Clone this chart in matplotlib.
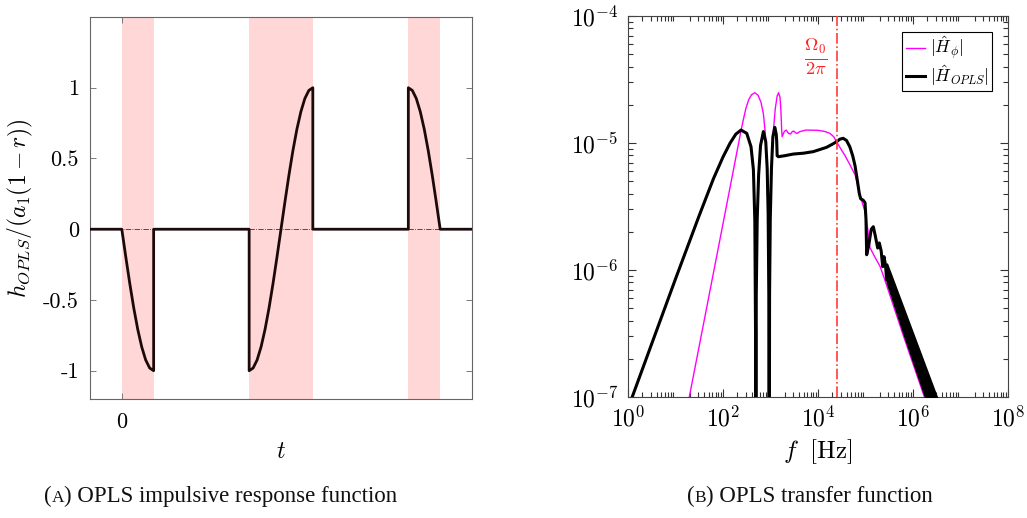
import numpy as np
import matplotlib
matplotlib.use("Agg")
import matplotlib.pyplot as plt
from matplotlib.ticker import LogLocator, NullFormatter
from matplotlib.offsetbox import TextArea, HPacker, AnchoredOffsetbox

plt.rcParams["mathtext.fontset"] = "cm"
plt.rcParams["font.family"] = "serif"
plt.rcParams["font.serif"] = ["cmr10", "DejaVu Serif"]
plt.rcParams["axes.formatter.use_mathtext"] = True

# ---- impulse response (normalised), sampled per segment ----
t_seg1 = [0, 0.125, 0.25, 0.375, 0.5, 0.625, 0.75, 0.875, 1.0]
h_seg1 = [0, -0.195, -0.383, -0.556, -0.707, -0.831, -0.924, -0.981, -1.0]
t_seg2 = [4.0, 4.125, 4.25, 4.375, 4.5, 4.625, 4.75, 4.875, 5.0,
          5.125, 5.25, 5.375, 5.5, 5.625, 5.75, 5.875, 6.0]
h_seg2 = [-1.0, -0.981, -0.924, -0.831, -0.707, -0.556, -0.383, -0.195, 0.0,
          0.195, 0.383, 0.556, 0.707, 0.831, 0.924, 0.981, 1.0]
t_seg3 = [9.0, 9.125, 9.25, 9.375, 9.5, 9.625, 9.75, 9.875, 10.0]
h_seg3 = [1.0, 0.981, 0.924, 0.831, 0.707, 0.556, 0.383, 0.195, 0.0]
t_range = [-1, 11]
windows = [(0, 1), (4, 6), (9, 10)]

# ---- transfer functions, log10 of frequency [Hz] and magnitude ----
logf_phi = [1.1, 1.29, 1.8, 2.2, 2.36, 2.42, 2.48, 2.54, 2.6, 2.67, 2.74, 2.80,
            2.85, 2.89, 2.92, 2.945, 2.958, 2.967, 2.975, 2.985, 3.0, 3.05,
            3.1, 3.14, 3.17, 3.2, 3.22, 3.235, 3.245, 3.29, 3.33, 3.38, 3.42,
            3.46, 3.49, 3.53, 3.56, 3.62, 3.75, 4.0, 4.15, 4.25, 4.33, 4.39,
            4.47, 4.57, 4.67, 4.78, 4.85, 4.89, 4.99, 5.05, 5.09, 5.13, 5.2,
            5.305, 5.4, 5.48, 5.8, 6.24, 6.5]
logH_phi = [-7.37, -7.0, -6.02, -5.25, -4.94, -4.83, -4.73, -4.66, -4.62,
            -4.604, -4.625, -4.68, -4.77, -4.92, -5.15, -5.5, -6.0, -9.0,
            -6.3, -5.8, -5.45, -4.95, -4.73, -4.63, -4.604, -4.64, -4.75,
            -4.90, -4.95, -4.91, -4.898, -4.925, -4.929, -4.91, -4.906, -4.92,
            -4.924, -4.91, -4.898, -4.90, -4.91, -4.924, -4.95, -4.99, -5.04,
            -5.10, -5.17, -5.25, -5.35, -5.42, -5.54, -5.685, -5.82, -5.85,
            -5.90, -5.97, -6.07, -6.16, -6.52, -7.0, -7.3]

logf_opls = [0.0, 0.5, 1.0, 1.5, 1.8, 2.0, 2.15, 2.27, 2.38, 2.50, 2.59, 2.64,
             2.67, 2.685, 2.692, 2.70, 2.72, 2.75, 2.79, 2.85, 2.90, 2.93, 2.95,
             2.965, 2.972, 2.98, 2.995, 3.02, 3.05, 3.09, 3.12, 3.13, 3.14,
             3.165, 3.3, 3.48, 3.7, 3.90, 4.05, 4.18, 4.3, 4.39, 4.46, 4.53,
             4.6, 4.67, 4.73, 4.78, 4.83, 4.87, 4.90, 4.95, 4.99, 5.01, 5.025,
             5.07, 5.12, 5.164, 5.2, 5.257, 5.29, 5.33, 5.362, 5.39, 5.42,
             5.446, 5.46]
logH_opls = [-7.09, -6.58, -6.07, -5.57, -5.28, -5.11, -5.00, -4.93, -4.898,
             -4.924, -5.03, -5.21, -5.61, -6.5, -9.0, -6.2, -5.6, -5.25, -5.02,
             -4.91, -4.99, -5.2, -5.55, -6.2, -9.0, -6.2, -5.6, -5.2, -4.95,
             -4.877, -4.93, -4.98, -5.10, -5.108, -5.10, -5.087, -5.08, -5.068,
             -5.05, -5.034, -5.01, -4.99, -4.97, -4.963, -4.98, -5.03, -5.10,
             -5.18, -5.30, -5.40, -5.44, -5.45, -5.47, -5.6, -5.88, -5.80,
             -5.68, -5.659, -5.72, -5.827, -5.787, -5.85, -5.974, -5.895,
             -5.96, -6.079, -6.02]

# fast oscillation at high frequency: envelope of the dense band
logf_band = [5.45, 5.6, 5.8, 6.0, 6.2, 6.4, 6.6]
logH_band_hi = [-5.95, -6.10, -6.30, -6.50, -6.70, -6.90, -7.10]
logH_band_lo = [-6.10, -6.27, -6.50, -6.72, -6.94, -7.16, -7.38]

f_omega0 = 2.47e4

fig = plt.figure(figsize=(10.27, 5.18), dpi=100)
frame_col = "#666666"

# ---------------- left: impulse response ----------------
ax1 = fig.add_axes([0.0876, 0.2297, 0.3720, 0.7375])
for a, b in windows:
    ax1.axvspan(a, b, color="#ffd7d7", lw=0, zorder=0)
ax1.plot(t_range, [0, 0], color="#333333", lw=0.6, ls="-.", zorder=1)

t_all = [t_range[0]] + t_seg1 + [1.0] + [4.0] + t_seg2 + [6.0] + [9.0] + t_seg3 + [t_range[1]]
h_all = [0] + h_seg1 + [0] + [0] + h_seg2 + [0] + [0] + h_seg3 + [0]
ax1.plot(t_all, h_all, color="#1c0a0a", lw=2, zorder=3)

ax1.set_xlim(*t_range)
ax1.set_ylim(-1.2, 1.5)
ax1.set_xticks([0])
ax1.set_xticklabels(["0"])
ax1.set_yticks([-1, -0.5, 0, 0.5, 1])
ax1.set_yticklabels(["-1", "-0.5", "0", "0.5", "1"])
ax1.tick_params(direction="in", length=4, width=0.6, color=frame_col,
                labelsize=16, top=True, right=True)
ax1.tick_params(axis="x", pad=10)
ax1.tick_params(axis="y", pad=8)
for s in ax1.spines.values():
    s.set_color(frame_col)
    s.set_linewidth(0.8)
ax1.set_xlabel(r"$t$", fontsize=17, labelpad=6)
ax1.set_ylabel(r"$h_{OPLS}/(a_1(1-r))$", fontsize=17, labelpad=6)

# ---------------- right: transfer function ----------------
ax2 = fig.add_axes([0.6115, 0.2336, 0.3700, 0.7355])
ax2.set_xscale("log")
ax2.set_yscale("log")

ax2.plot(10.0 ** np.array(logf_phi), 10.0 ** np.array(logH_phi),
         color="#ff00ff", lw=1.0, label=r"$|\hat{H}_\phi|$", zorder=2)
ax2.plot(10.0 ** np.array(logf_opls), 10.0 ** np.array(logH_opls),
         color="black", lw=2.2, label=r"$|\hat{H}_{OPLS}|$", zorder=3)
ax2.fill_between(10.0 ** np.array(logf_band), 10.0 ** np.array(logH_band_lo),
                 10.0 ** np.array(logH_band_hi), color="black", lw=1.2,
                 edgecolor="black", zorder=3)

ax2.axvline(f_omega0, color="#ff3b3b", lw=1.2, ls="-.", zorder=4)
ax2.text(10 ** 3.96, 10 ** -4.32, r"$\frac{\Omega_0}{2\pi}$", color="#ff2020",
         fontsize=19, ha="center", va="center")

ax2.set_xlim(1, 1e8)
ax2.set_ylim(1e-7, 1e-4)
ax2.set_xticks([1, 1e2, 1e4, 1e6, 1e8])
ax2.set_xticklabels([r"$10^{0}$", r"$10^{2}$", r"$10^{4}$", r"$10^{6}$", r"$10^{8}$"])
ax2.set_yticks([1e-7, 1e-6, 1e-5, 1e-4])
ax2.set_yticklabels([r"$10^{-7}$", r"$10^{-6}$", r"$10^{-5}$", r"$10^{-4}$"])
ax2.xaxis.set_minor_locator(LogLocator(base=10, subs=np.arange(2, 10), numticks=100))
ax2.yaxis.set_minor_locator(LogLocator(base=10, subs=np.arange(2, 10), numticks=100))
ax2.xaxis.set_minor_formatter(NullFormatter())
ax2.yaxis.set_minor_formatter(NullFormatter())
ax2.tick_params(which="both", direction="in", width=0.8, color="#333333",
                top=True, right=True, labelsize=17)
ax2.tick_params(which="major", length=6)
ax2.tick_params(which="minor", length=3.5)
ax2.tick_params(axis="x", which="major", pad=7)
ax2.tick_params(axis="y", which="major", pad=7)
for s in ax2.spines.values():
    s.set_color("#444444")
    s.set_linewidth(0.8)
ax2.set_xlabel(r"$f\ \ [\mathrm{Hz}]$", fontsize=18, labelpad=4)

leg = ax2.legend(loc="upper right", fontsize=12.5, handlelength=1.1,
                 handletextpad=0.3, borderpad=0.2, labelspacing=0.05,
                 fancybox=False, framealpha=1, borderaxespad=0.9)
leg.get_frame().set_edgecolor("black")
leg.get_frame().set_linewidth(0.8)


# ---------------- captions with small-caps letter ----------------
def caption(letter, rest, x, y):
    cap_font = dict(family="Liberation Serif", color="#111111")
    parts = [TextArea("(", textprops=dict(size=16.5, **cap_font)),
             TextArea(letter, textprops=dict(size=12.5, **cap_font)),
             TextArea(") " + rest, textprops=dict(size=16.5, **cap_font))]
    box = HPacker(children=parts, align="baseline", pad=0, sep=0)
    anchored = AnchoredOffsetbox(loc="center", child=box, pad=0, borderpad=0,
                                 frameon=False, bbox_to_anchor=(x, y),
                                 bbox_transform=fig.transFigure)
    fig.add_artist(anchored)


caption("A", "OPLS impulsive response function", 221 / 1027, 1 - 496 / 518)
caption("B", "OPLS transfer function", 810 / 1027, 1 - 496 / 518)

fig.savefig("out.png", dpi=100)
